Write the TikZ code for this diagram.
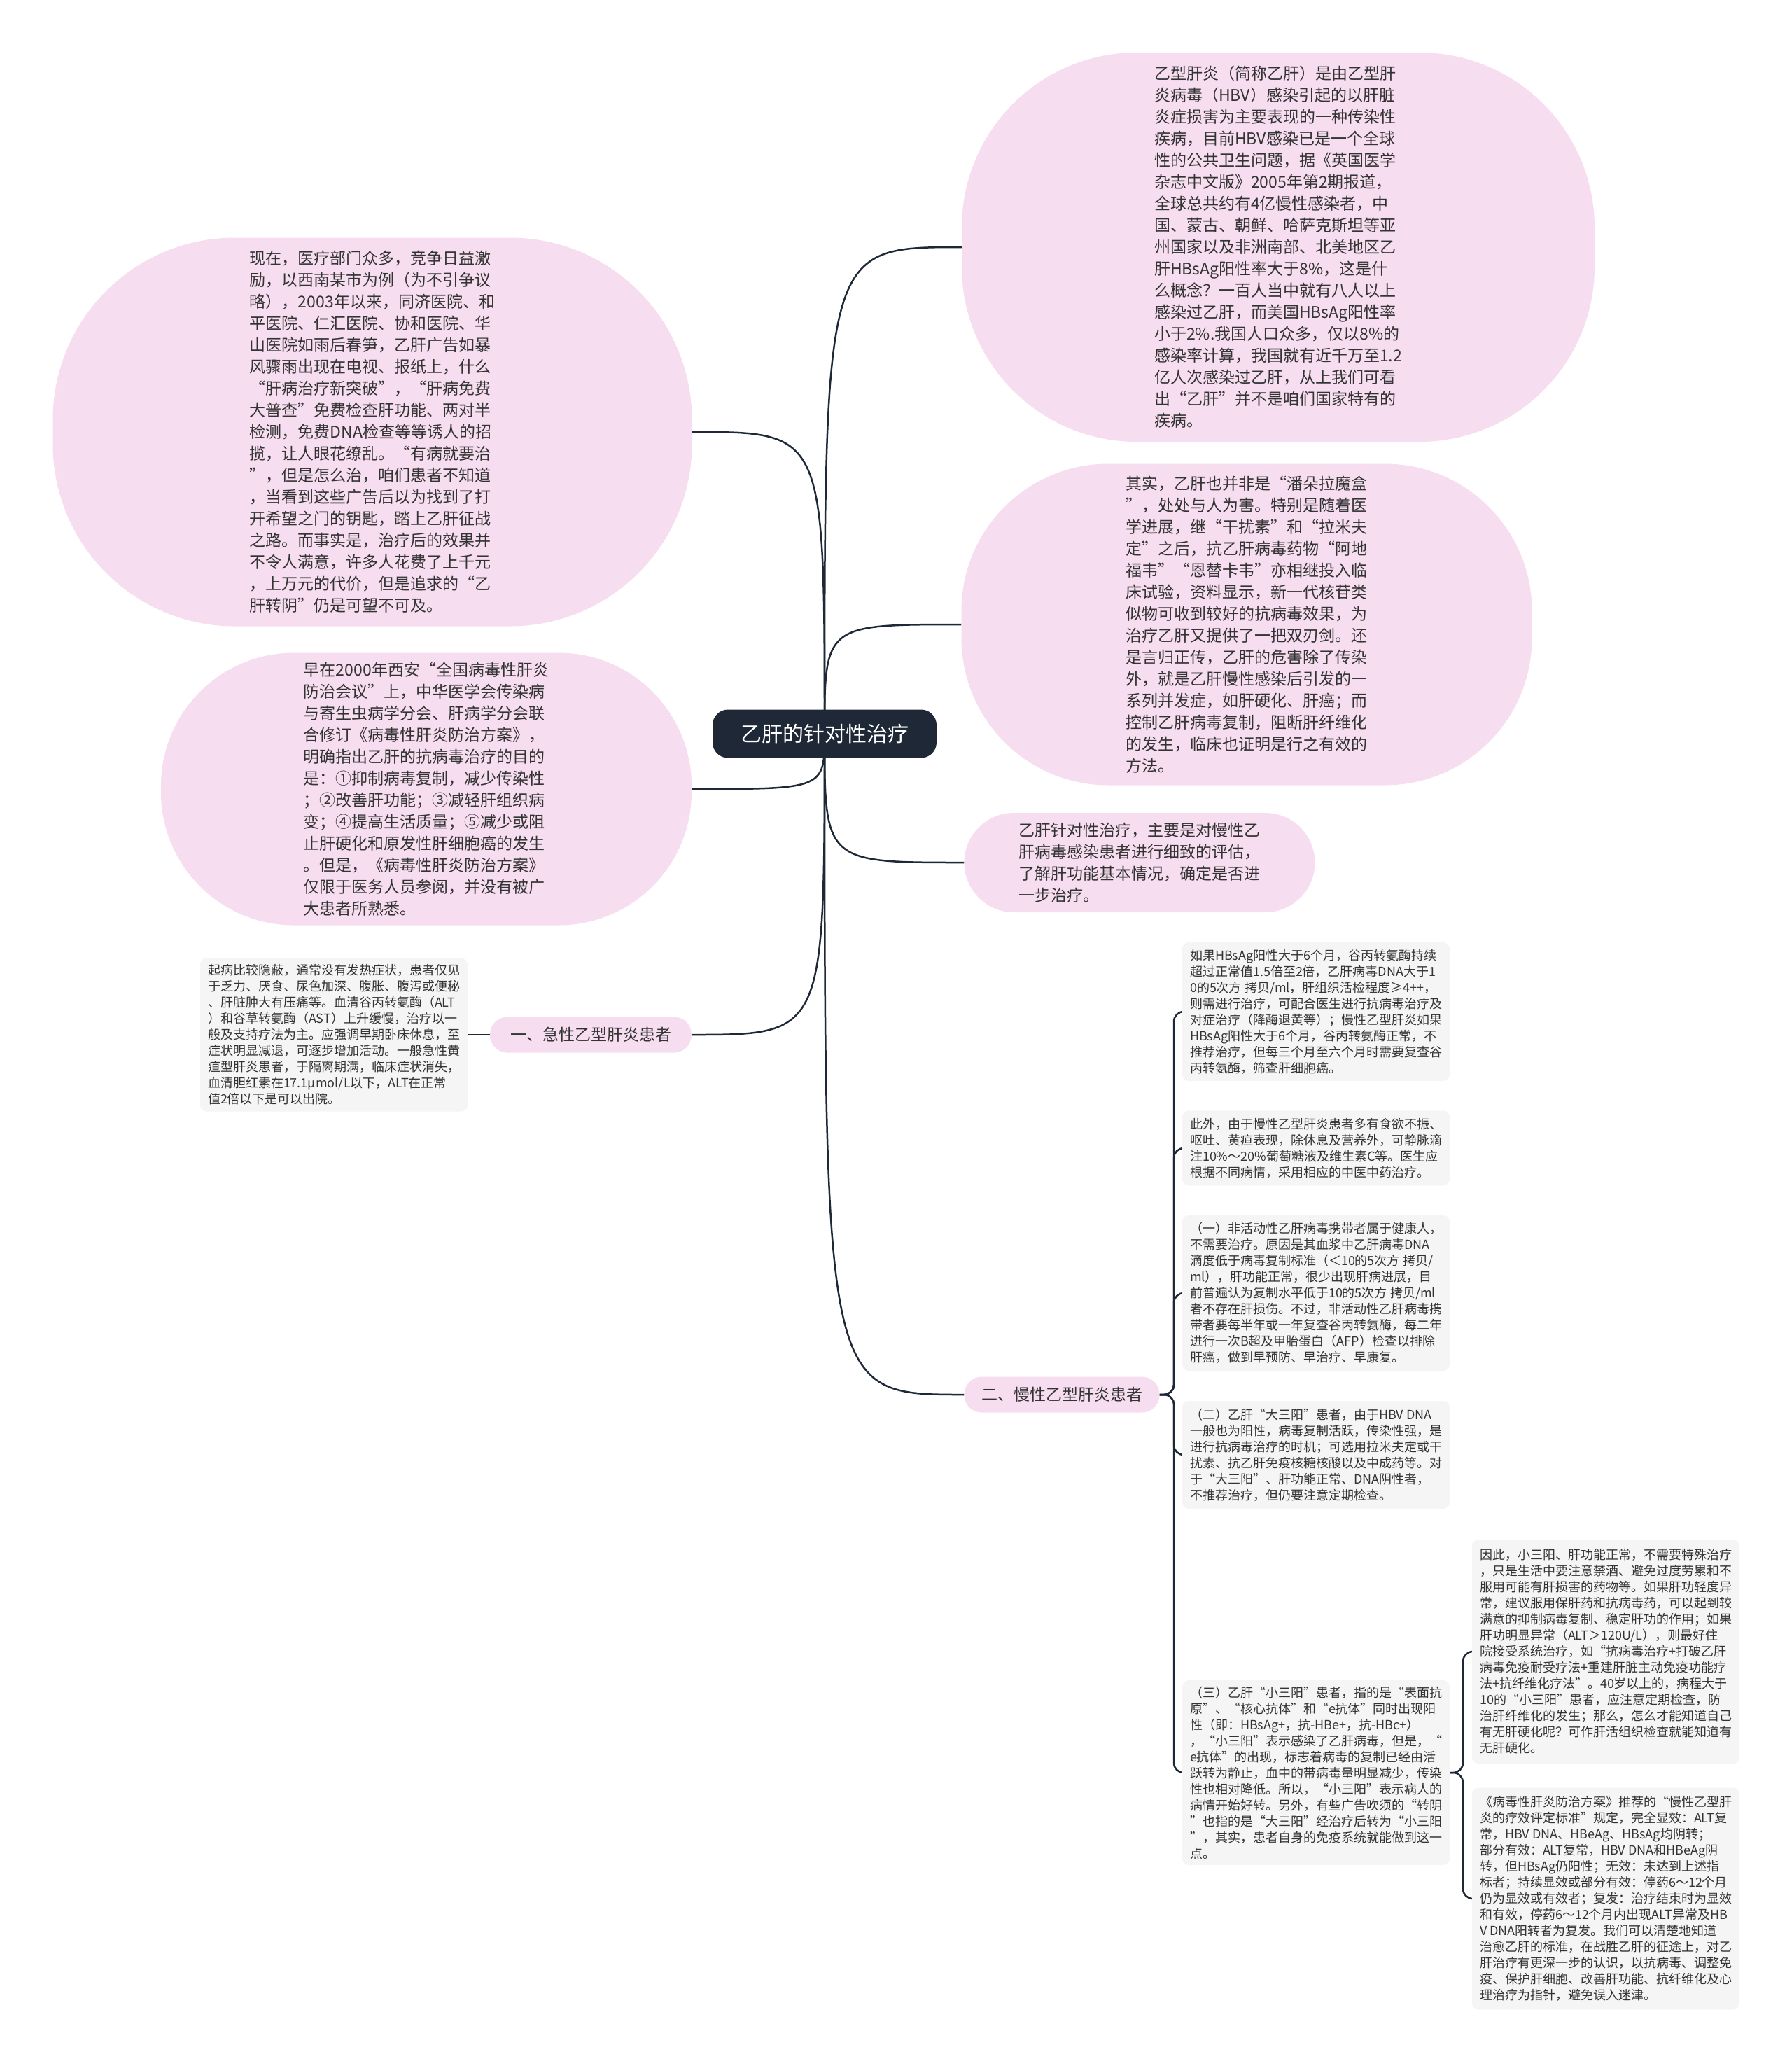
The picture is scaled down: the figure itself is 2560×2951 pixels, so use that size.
\documentclass[tikz,border=0pt]{standalone}
\usepackage{fontspec}
\setmainfont{Noto Sans CJK SC}
\usepackage{tikz}
\usetikzlibrary{backgrounds,calc}
\definecolor{bubble pink}{RGB}{246,221,240}
\definecolor{leaf grey}{RGB}{245,245,245}
\definecolor{ink}{RGB}{30,40,54}
\definecolor{body text}{RGB}{51,51,51}
\newcommand{\bubblefont}{\fontsize{23}{31}\selectfont}
\newcommand{\leaffont}{\fontsize{18}{23}\selectfont}
\tikzstyle{bubble} = [fill=bubble pink,inner sep=0pt,align=left,text=body text,font=\bubblefont]
\tikzstyle{branch} = [fill=bubble pink,inner sep=0pt,rounded corners=25pt,minimum height=51pt,text=body text,font=\bubblefont]
\tikzstyle{leaf} = [fill=leaf grey,inner sep=0pt,rounded corners=9pt,minimum width=382pt,align=left,text=body text,font=\leaffont]
\tikzstyle{link} = [ink,line width=2.5pt]

\begin{document}
\begin{tikzpicture}[x=1pt,y=-1pt]
		\useasboundingbox (0,0) rectangle (2560,2951);
		\node[fill=ink,text=white,inner sep=0pt,rounded corners=22pt,minimum width=320pt,minimum height=69pt,font=\fontsize{30}{36}\selectfont] (core) at (1178,1048) {乙肝的针对性治疗};
		
		% right side
		\node[bubble,minimum width=904pt,minimum height=556pt,rounded corners=250pt] (intro) at (1826,353) {乙型肝炎（简称乙肝）是由乙型肝\\炎病毒（HBV）感染引起的以肝脏\\炎症损害为主要表现的一种传染性\\疾病，目前HBV感染已是一个全球\\性的公共卫生问题，据《英国医学\\杂志中文版》2005年第2期报道，\\全球总共约有4亿慢性感染者，中\\国、蒙古、朝鲜、哈萨克斯坦等亚\\州国家以及非洲南部、北美地区乙\\肝HBsAg阳性率大于8\%，这是什\\么概念？一百人当中就有八人以上\\感染过乙肝，而美国HBsAg阳性率\\小于2\%.我国人口众多，仅以8\%的\\感染率计算，我国就有近千万至1.2\\亿人次感染过乙肝，从上我们可看\\出“乙肝”并不是咱们国家特有的\\疾病。};
		\node[bubble,minimum width=815pt,minimum height=459pt,rounded corners=210pt] (truth) at (1781,892) {其实，乙肝也并非是“潘朵拉魔盒\\”，处处与人为害。特别是随着医\\学进展，继“干扰素”和“拉米夫\\定”之后，抗乙肝病毒药物“阿地\\福韦”“恩替卡韦”亦相继投入临\\床试验，资料显示，新一代核苷类\\似物可收到较好的抗病毒效果，为\\治疗乙肝又提供了一把双刃剑。还\\是言归正传，乙肝的危害除了传染\\外，就是乙肝慢性感染后引发的一\\系列并发症，如肝硬化、肝癌；而\\控制乙肝病毒复制，阻断肝纤维化\\的发生，临床也证明是行之有效的\\方法。};
		\node[bubble,minimum width=501pt,minimum height=142pt,rounded corners=71pt] (assess) at (1628,1232) {乙肝针对性治疗，主要是对慢性乙\\肝病毒感染患者进行细致的评估，\\了解肝功能基本情况，确定是否进\\一步治疗。};
		\node[branch,minimum width=279pt] (chronic) at (1517,1992) {二、慢性乙型肝炎患者};
		
		\node[leaf,minimum height=198pt] (c1) at (1880,1445) {如果HBsAg阳性大于6个月，谷丙转氨酶持续\\超过正常值1.5倍至2倍，乙肝病毒DNA大于1\\0的5次方 拷贝/ml，肝组织活检程度≥4++，\\则需进行治疗，可配合医生进行抗病毒治疗及\\对症治疗（降酶退黄等）；慢性乙型肝炎如果\\HBsAg阳性大于6个月，谷丙转氨酶正常，不\\推荐治疗，但每三个月至六个月时需要复查谷\\丙转氨酶，筛查肝细胞癌。};
		\node[leaf,minimum height=107pt] (c2) at (1880,1640) {此外，由于慢性乙型肝炎患者多有食欲不振、\\呕吐、黄疸表现，除休息及营养外，可静脉滴\\注10\%～20\%葡萄糖液及维生素C等。医生应\\根据不同病情，采用相应的中医中药治疗。};
		\node[leaf,minimum height=222pt] (c3) at (1880,1847) {（一）非活动性乙肝病毒携带者属于健康人，\\不需要治疗。原因是其血浆中乙肝病毒DNA\\滴度低于病毒复制标准（＜10的5次方 拷贝/\\ml），肝功能正常，很少出现肝病进展，目\\前普遍认为复制水平低于10的5次方 拷贝/ml\\者不存在肝损伤。不过，非活动性乙肝病毒携\\带者要每半年或一年复查谷丙转氨酶，每二年\\进行一次B超及甲胎蛋白（AFP）检查以排除\\肝癌，做到早预防、早治疗、早康复。};
		\node[leaf,minimum height=154pt] (c4) at (1880,2078) {（二）乙肝“大三阳”患者，由于HBV DNA\\一般也为阳性，病毒复制活跃，传染性强，是\\进行抗病毒治疗的时机；可选用拉米夫定或干\\扰素、抗乙肝免疫核糖核酸以及中成药等。对\\于“大三阳”、肝功能正常、DNA阴性者，\\不推荐治疗，但仍要注意定期检查。};
		\node[leaf,minimum height=264pt] (c5) at (1880,2532) {（三）乙肝“小三阳”患者，指的是“表面抗\\原”、“核心抗体”和“e抗体”同时出现阳\\性（即：HBsAg+，抗-HBe+，抗-HBc+）\\，“小三阳”表示感染了乙肝病毒，但是，“\\e抗体”的出现，标志着病毒的复制已经由活\\跃转为静止，血中的带病毒量明显减少，传染\\性也相对降低。所以，“小三阳”表示病人的\\病情开始好转。另外，有些广告吹须的“转阴\\”也指的是“大三阳”经治疗后转为“小三阳\\”，其实，患者自身的免疫系统就能做到这一\\点。};
		\node[leaf,minimum height=320pt] (s1) at (2294,2359) {因此，小三阳、肝功能正常，不需要特殊治疗\\，只是生活中要注意禁酒、避免过度劳累和不\\服用可能有肝损害的药物等。如果肝功轻度异\\常，建议服用保肝药和抗病毒药，可以起到较\\满意的抑制病毒复制、稳定肝功的作用；如果\\肝功明显异常（ALT＞120U/L），则最好住\\院接受系统治疗，如“抗病毒治疗+打破乙肝\\病毒免疫耐受疗法+重建肝脏主动免疫功能疗\\法+抗纤维化疗法”。40岁以上的，病程大于\\10的“小三阳”患者，应注意定期检查，防\\治肝纤维化的发生；那么，怎么才能知道自己\\有无肝硬化呢？可作肝活组织检查就能知道有\\无肝硬化。};
		\node[leaf,minimum height=317pt] (s2) at (2294,2712) {《病毒性肝炎防治方案》推荐的“慢性乙型肝\\炎的疗效评定标准”规定，完全显效：ALT复\\常，HBV DNA、HBeAg、HBsAg均阴转；\\部分有效：ALT复常，HBV DNA和HBeAg阴\\转，但HBsAg仍阳性；无效：未达到上述指\\标者；持续显效或部分有效：停药6～12个月\\仍为显效或有效者；复发：治疗结束时为显效\\和有效，停药6～12个月内出现ALT异常及HB\\V DNA阳转者为复发。我们可以清楚地知道\\治愈乙肝的标准，在战胜乙肝的征途上，对乙\\肝治疗有更深一步的认识，以抗病毒、调整免\\疫、保护肝细胞、改善肝功能、抗纤维化及心\\理治疗为指针，避免误入迷津。};
		
		% left side
		\node[bubble,minimum width=913pt,minimum height=555pt,rounded corners=260pt] (ads) at (532,617) {现在，医疗部门众多，竞争日益激\\励，以西南某市为例（为不引争议\\略），2003年以来，同济医院、和\\平医院、仁汇医院、协和医院、华\\山医院如雨后春笋，乙肝广告如暴\\风骤雨出现在电视、报纸上，什么\\“肝病治疗新突破”，“肝病免费\\大普查”免费检查肝功能、两对半\\检测，免费DNA检查等等诱人的招\\揽，让人眼花缭乱。“有病就要治\\”，但是怎么治，咱们患者不知道\\，当看到这些广告后以为找到了打\\开希望之门的钥匙，踏上乙肝征战\\之路。而事实是，治疗后的效果并\\不令人满意，许多人花费了上千元\\，上万元的代价，但是追求的“乙\\肝转阴”仍是可望不可及。};
		\node[bubble,minimum width=758pt,minimum height=389pt,rounded corners=190pt] (plan) at (609,1127) {早在2000年西安“全国病毒性肝炎\\防治会议”上，中华医学会传染病\\与寄生虫病学分会、肝病学分会联\\合修订《病毒性肝炎防治方案》，\\明确指出乙肝的抗病毒治疗的目的\\是：①抑制病毒复制，减少传染性\\；②改善肝功能；③减轻肝组织病\\变；④提高生活质量；⑤减少或阻\\止肝硬化和原发性肝细胞癌的发生\\。但是，《病毒性肝炎防治方案》\\仅限于医务人员参阅，并没有被广\\大患者所熟悉。};
		\node[branch,minimum width=288pt] (acute) at (844,1478) {一、急性乙型肝炎患者};
		\node[leaf,minimum height=219pt] (acutenote) at (477,1478) {起病比较隐蔽，通常没有发热症状，患者仅见\\于乏力、厌食、尿色加深、腹胀、腹泻或便秘\\、肝脏肿大有压痛等。血清谷丙转氨酶（ALT\\）和谷草转氨酶（AST）上升缓慢，治疗以一\\般及支持疗法为主。应强调早期卧床休息，至\\症状明显减退，可逐步增加活动。一般急性黄\\疸型肝炎患者，于隔离期满，临床症状消失，\\血清胆红素在17.1μmol/L以下，ALT在正常\\值2倍以下是可以出院。};
		
		\begin{scope}[on background layer]
		\draw[link] (core.center) .. controls (core.center |- intro.west) .. (intro.west);
		\draw[link] (core.center) .. controls (core.center |- truth.west) .. (truth.west);
		\draw[link] (core.center) .. controls (core.center |- assess.west) .. (assess.west);
		\draw[link] (core.center) .. controls (core.center |- chronic.west) .. (chronic.west);
		\draw[link] (core.center) .. controls (core.center |- ads.east) .. (ads.east);
		\draw[link] (core.center) .. controls (core.center |- plan.east) .. (plan.east);
		\draw[link] (core.center) .. controls (core.center |- acute.east) .. (acute.east);
		\draw[link] (acute.west) to (acutenote.east);
		\coordinate (chronicfork) at (1677,1992);
		\foreach \n in {c1,c2,c3,c4,c5}
			\draw[link,rounded corners=14pt] (chronic.east) -- (chronicfork) |- (\n.west);
		\coordinate (smallfork) at (2090,2532);
		\foreach \n in {s1,s2}
			\draw[link,rounded corners=14pt] (c5.east) -- (smallfork) |- (\n.west);
		\end{scope}
	\end{tikzpicture}
\end{document}
